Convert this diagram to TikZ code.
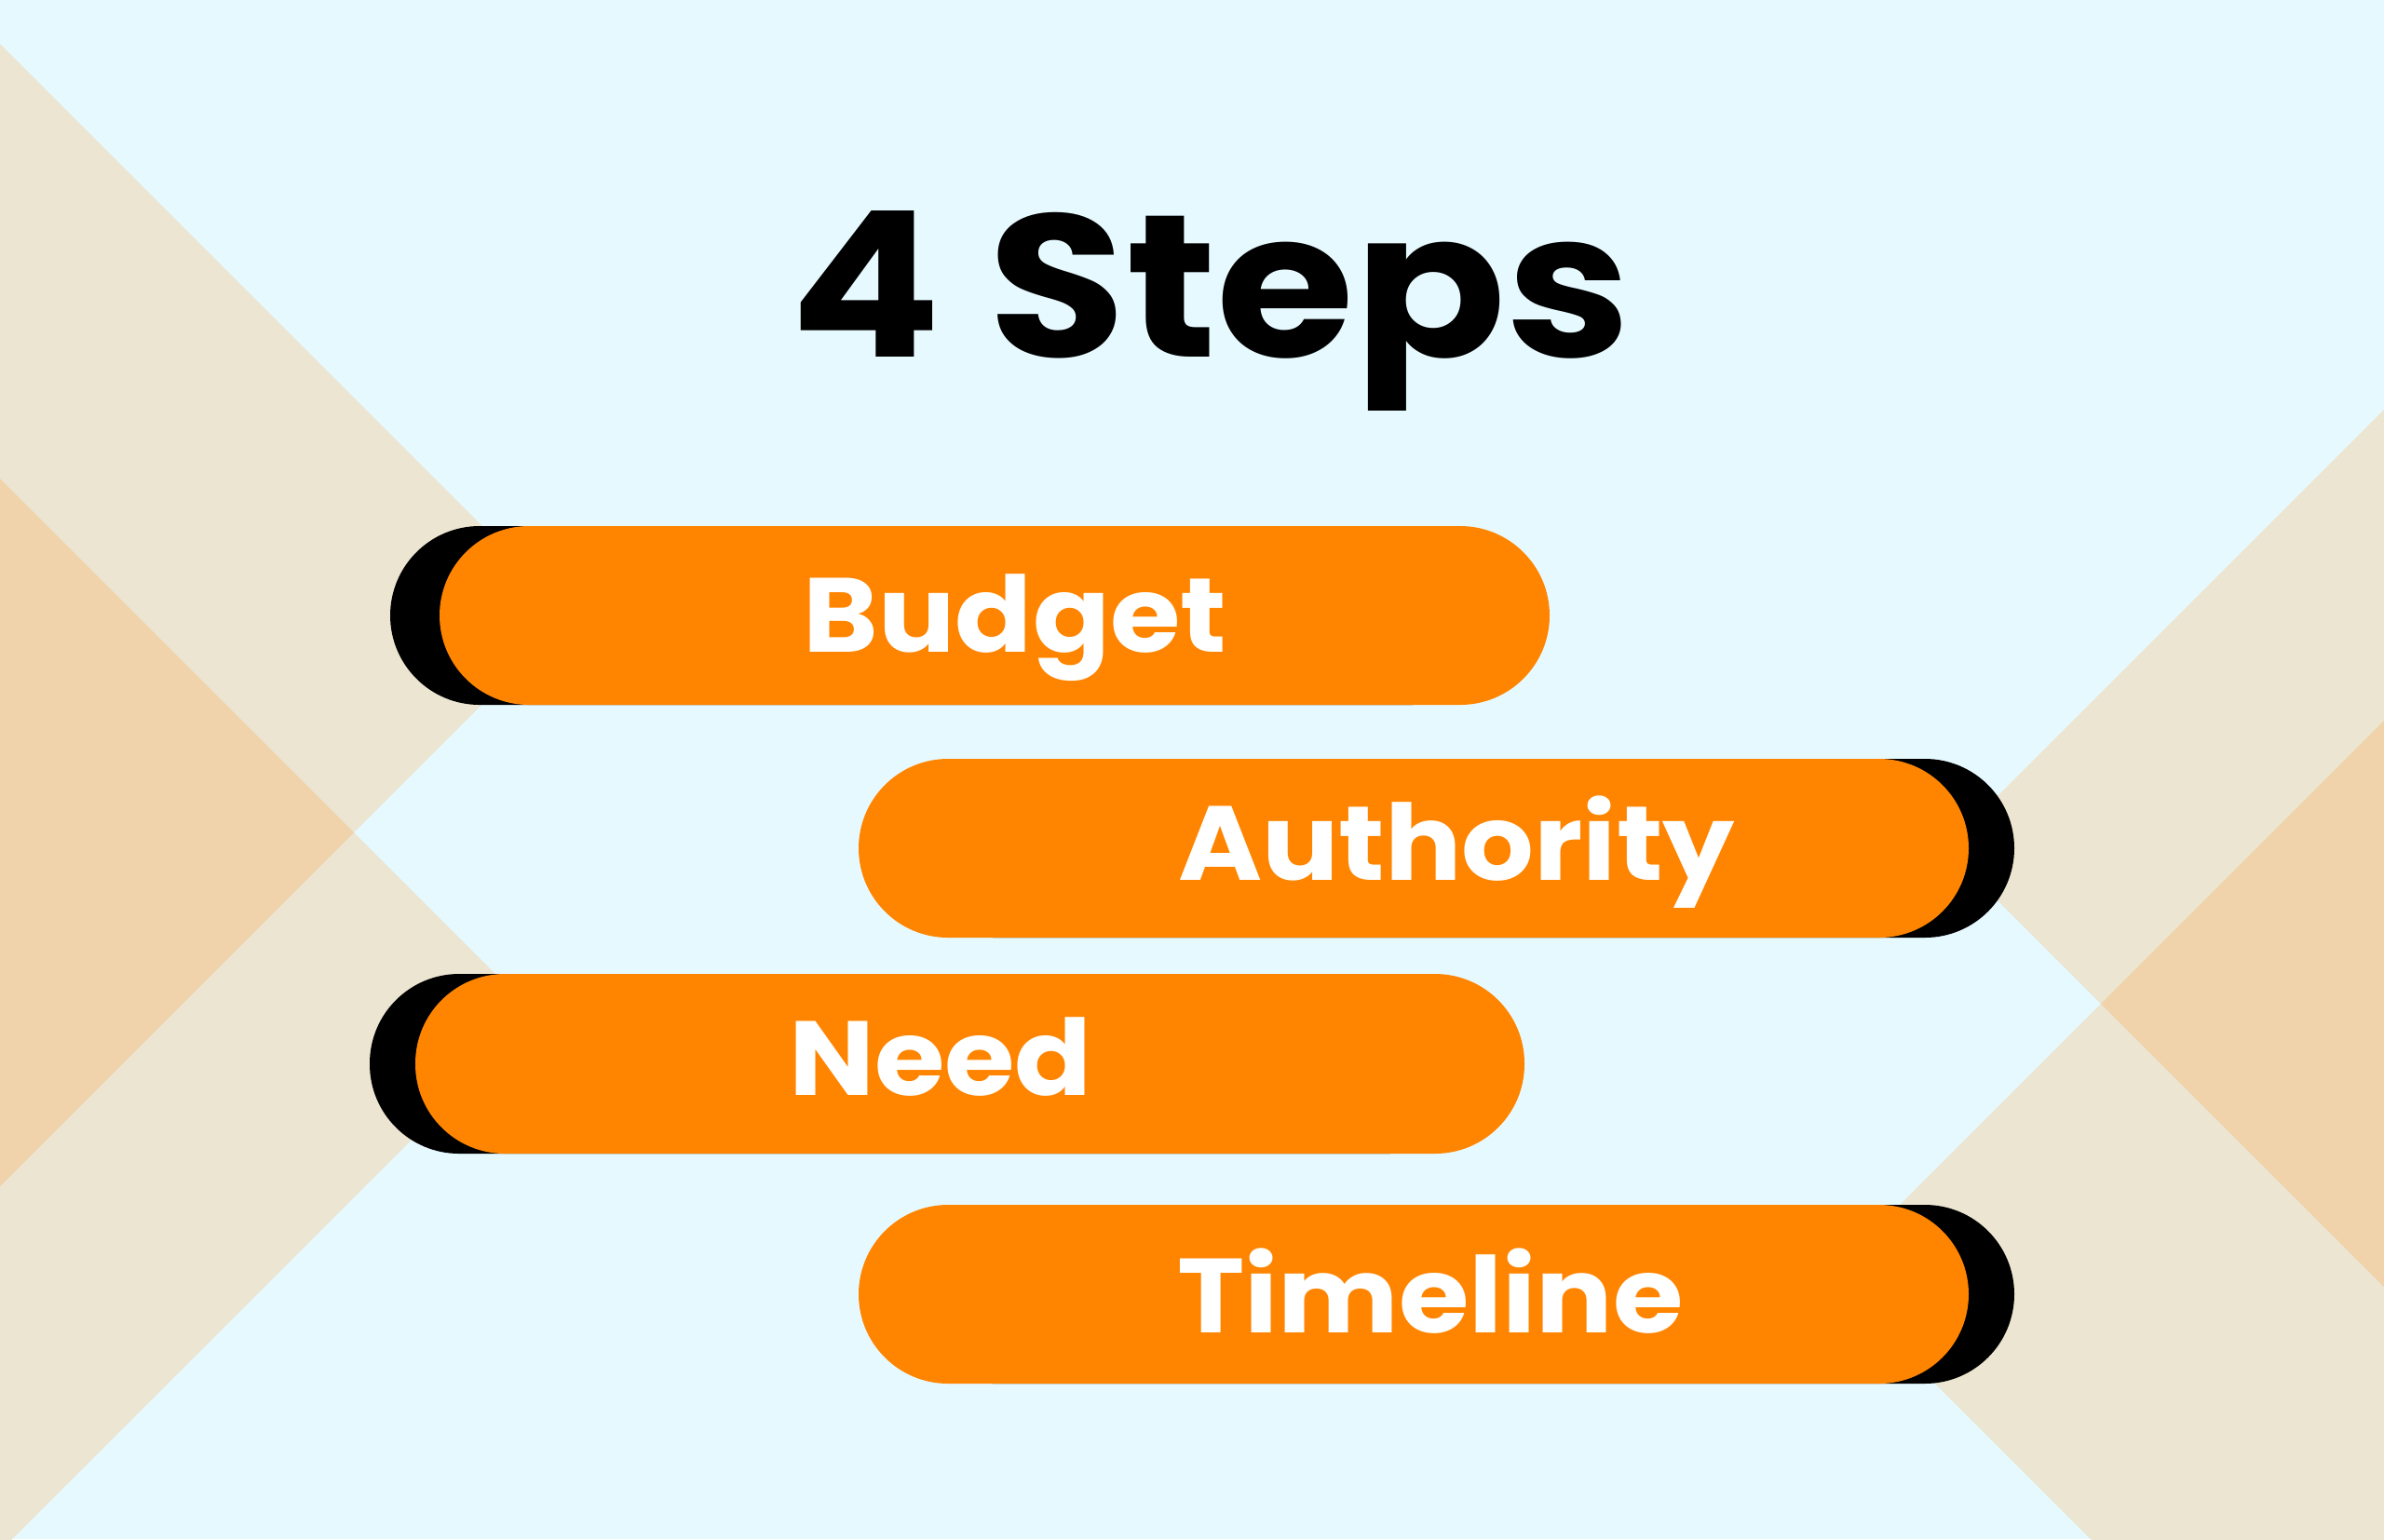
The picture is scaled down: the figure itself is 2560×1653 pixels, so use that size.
\documentclass[tikz,border=0pt]{standalone}
\usepackage{fontspec}
\setmainfont{Poppins}
\newfontfamily\titlefont{Poppins}[FakeStretch=1.1]
\newfontfamily\stepfont{Poppins}[FakeStretch=1.08]
\usepackage{tikz}
\usepackage{xcolor}

\definecolor{skybg}{HTML}{E6F9FE}
\definecolor{sand}{HTML}{EBE5D1}
\definecolor{peach}{HTML}{F0D3AA}
\definecolor{barorange}{HTML}{FF8500}

\begin{document}
\begin{tikzpicture}[x=0.01cm, y=-0.01cm,
  pill/.style={rounded corners=0.96cm},
  steplabel/.style={anchor=base, text=white, inner sep=0pt, font=\stepfont\fontsize{32.2}{36}\selectfont\bfseries}]
\fill[skybg] (0,0) rectangle (2560,1653);
\useasboundingbox (0,0) rectangle (2560,1653);
\begin{scope}
\clip (0,0) rectangle (2560,1653);
\fill[sand] (0,47) -- (613.5,660.5) -- (0,1274) -- cycle;
\fill[sand] (0,514) -- (576,1090) -- (0,1666) -- cycle;
\fill[peach] (0,514) -- (380,894) -- (0,1274) -- cycle;
\fill[sand] (2560,440) -- (2089,911) -- (2560,1382) -- cycle;
\fill[sand] (2560,774) -- (1963,1371) -- (2560,1968) -- cycle;
\fill[peach] (2560,774) -- (2256,1078) -- (2560,1382) -- cycle;
\end{scope}
\fill[black, pill] (419,565) rectangle (1612,757);
\fill[barorange, pill] (472,565) rectangle (1664,757);
\fill[black, pill] (971,815) rectangle (2163,1007);
\fill[barorange, pill] (922,815) rectangle (2114,1007);
\fill[black, pill] (397,1046) rectangle (1588,1239);
\fill[barorange, pill] (446,1046) rectangle (1637,1239);
\fill[black, pill] (971,1294) rectangle (2163,1486);
\fill[barorange, pill] (922,1294) rectangle (2114,1486);
\node[anchor=base, inner sep=0pt, font=\titlefont\fontsize{62}{68}\selectfont\bfseries] (title) at (1300,383) {4 Steps};
\node[steplabel] (budget) at (1090,700) {Budget};
\node[steplabel] (authority) at (1564,945) {Authority};
\node[steplabel] (need) at (1010,1176) {Need};
\node[steplabel] (timeline) at (1536,1431) {Timeline};
\end{tikzpicture}
\end{document}
